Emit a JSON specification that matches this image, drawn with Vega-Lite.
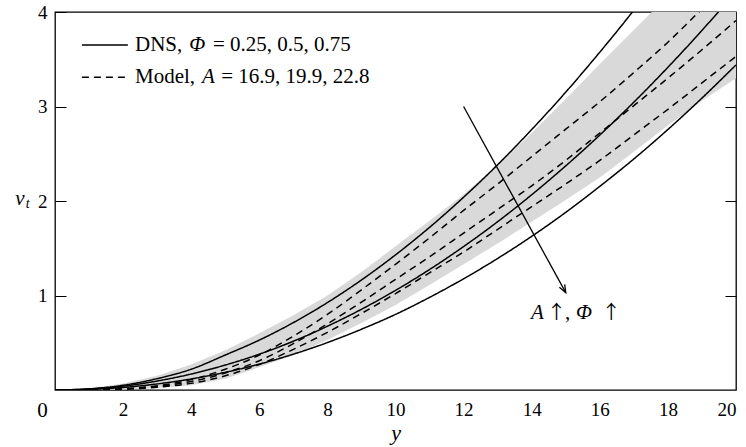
{
  "$schema": "https://vega.github.io/schema/vega-lite/v6.json",
  "width": 681,
  "height": 378,
  "autosize": {"type": "none"},
  "padding": {"left": 55, "top": 12, "right": 10, "bottom": 57},
  "config": {
    "view": {"stroke": "black", "strokeWidth": 1.3},
    "font": "Liberation Serif",
    "axis": {"grid": false, "labelFont": "Liberation Serif", "labelFontSize": 19, "labelColor": "black", "tickColor": "black", "titleFont": "Liberation Serif", "titleColor": "black"},
    "axisX": {"domain": false, "ticks": false, "labelPadding": 10, "labelExpr": "datum.value == 0 ? '' : datum.label", "titleFontSize": 22, "titleFontStyle": "italic", "titleFontWeight": "normal", "titlePadding": 3}
  },
  "datasets": {
    "curves": [
      {"s":"S1","k":"DNS","x":0,"v":0},{"s":"S1","k":"DNS","x":1,"v":0.012},{"s":"S1","k":"DNS","x":2,"v":0.05},{"s":"S1","k":"DNS","x":3,"v":0.12},{"s":"S1","k":"DNS","x":4,"v":0.22},{"s":"S1","k":"DNS","x":5,"v":0.37},{"s":"S1","k":"DNS","x":6,"v":0.528},{"s":"S1","k":"DNS","x":7,"v":0.713},{"s":"S1","k":"DNS","x":8,"v":0.925},{"s":"S1","k":"DNS","x":9,"v":1.164},{"s":"S1","k":"DNS","x":10,"v":1.43},{"s":"S1","k":"DNS","x":11,"v":1.721},{"s":"S1","k":"DNS","x":12,"v":2.04},{"s":"S1","k":"DNS","x":13,"v":2.384},{"s":"S1","k":"DNS","x":14,"v":2.756},{"s":"S1","k":"DNS","x":15,"v":3.152},{"s":"S1","k":"DNS","x":16,"v":3.575},{"s":"S1","k":"DNS","x":17,"v":4.02},{"s":"S1","k":"DNS","x":18,"v":4.5},
      {"s":"S2","k":"DNS","x":0,"v":0},{"s":"S2","k":"DNS","x":1,"v":0.01},{"s":"S2","k":"DNS","x":2,"v":0.04},{"s":"S2","k":"DNS","x":3,"v":0.095},{"s":"S2","k":"DNS","x":4,"v":0.169},{"s":"S2","k":"DNS","x":5,"v":0.264},{"s":"S2","k":"DNS","x":6,"v":0.379},{"s":"S2","k":"DNS","x":7,"v":0.516},{"s":"S2","k":"DNS","x":8,"v":0.675},{"s":"S2","k":"DNS","x":9,"v":0.854},{"s":"S2","k":"DNS","x":10,"v":1.054},{"s":"S2","k":"DNS","x":11,"v":1.275},{"s":"S2","k":"DNS","x":12,"v":1.518},{"s":"S2","k":"DNS","x":13,"v":1.781},{"s":"S2","k":"DNS","x":14,"v":2.066},{"s":"S2","k":"DNS","x":15,"v":2.372},{"s":"S2","k":"DNS","x":16,"v":2.698},{"s":"S2","k":"DNS","x":17,"v":3.046},{"s":"S2","k":"DNS","x":18,"v":3.415},{"s":"S2","k":"DNS","x":19,"v":3.805},{"s":"S2","k":"DNS","x":20,"v":4.216},
      {"s":"S3","k":"DNS","x":0,"v":0},{"s":"S3","k":"DNS","x":1,"v":0.0064},{"s":"S3","k":"DNS","x":2,"v":0.027},{"s":"S3","k":"DNS","x":3,"v":0.064},{"s":"S3","k":"DNS","x":4,"v":0.117},{"s":"S3","k":"DNS","x":5,"v":0.187},{"s":"S3","k":"DNS","x":6,"v":0.274},{"s":"S3","k":"DNS","x":7,"v":0.379},{"s":"S3","k":"DNS","x":8,"v":0.502},{"s":"S3","k":"DNS","x":9,"v":0.643},{"s":"S3","k":"DNS","x":10,"v":0.8},{"s":"S3","k":"DNS","x":11,"v":0.98},{"s":"S3","k":"DNS","x":12,"v":1.177},{"s":"S3","k":"DNS","x":13,"v":1.392},{"s":"S3","k":"DNS","x":14,"v":1.626},{"s":"S3","k":"DNS","x":15,"v":1.88},{"s":"S3","k":"DNS","x":16,"v":2.155},{"s":"S3","k":"DNS","x":17,"v":2.445},{"s":"S3","k":"DNS","x":18,"v":2.757},{"s":"S3","k":"DNS","x":19,"v":3.089},{"s":"S3","k":"DNS","x":20,"v":3.44},
      {"s":"D1","k":"Model","x":0,"v":0},{"s":"D1","k":"Model","x":1,"v":0.001},{"s":"D1","k":"Model","x":2,"v":0.012},{"s":"D1","k":"Model","x":3,"v":0.045},{"s":"D1","k":"Model","x":4,"v":0.11},{"s":"D1","k":"Model","x":5,"v":0.22},{"s":"D1","k":"Model","x":6,"v":0.37},{"s":"D1","k":"Model","x":7,"v":0.57},{"s":"D1","k":"Model","x":8,"v":0.8},{"s":"D1","k":"Model","x":9,"v":1.06},{"s":"D1","k":"Model","x":10,"v":1.33},{"s":"D1","k":"Model","x":11,"v":1.61},{"s":"D1","k":"Model","x":12,"v":1.9},{"s":"D1","k":"Model","x":13,"v":2.18},{"s":"D1","k":"Model","x":14,"v":2.47},{"s":"D1","k":"Model","x":15,"v":2.76},{"s":"D1","k":"Model","x":16,"v":3.05},{"s":"D1","k":"Model","x":17,"v":3.36},{"s":"D1","k":"Model","x":18,"v":3.68},{"s":"D1","k":"Model","x":19,"v":4.03},{"s":"D1","k":"Model","x":20,"v":4.36},
      {"s":"D2","k":"Model","x":0,"v":0},{"s":"D2","k":"Model","x":1,"v":0.001},{"s":"D2","k":"Model","x":2,"v":0.01},{"s":"D2","k":"Model","x":3,"v":0.038},{"s":"D2","k":"Model","x":4,"v":0.09},{"s":"D2","k":"Model","x":5,"v":0.18},{"s":"D2","k":"Model","x":6,"v":0.31},{"s":"D2","k":"Model","x":7,"v":0.49},{"s":"D2","k":"Model","x":8,"v":0.7},{"s":"D2","k":"Model","x":9,"v":0.93},{"s":"D2","k":"Model","x":10,"v":1.17},{"s":"D2","k":"Model","x":11,"v":1.41},{"s":"D2","k":"Model","x":12,"v":1.66},{"s":"D2","k":"Model","x":13,"v":1.91},{"s":"D2","k":"Model","x":14,"v":2.16},{"s":"D2","k":"Model","x":15,"v":2.43},{"s":"D2","k":"Model","x":16,"v":2.72},{"s":"D2","k":"Model","x":17,"v":3.01},{"s":"D2","k":"Model","x":18,"v":3.3},{"s":"D2","k":"Model","x":19,"v":3.6},{"s":"D2","k":"Model","x":20,"v":3.91},
      {"s":"D3","k":"Model","x":0,"v":0},{"s":"D3","k":"Model","x":1,"v":0.001},{"s":"D3","k":"Model","x":2,"v":0.008},{"s":"D3","k":"Model","x":3,"v":0.03},{"s":"D3","k":"Model","x":4,"v":0.07},{"s":"D3","k":"Model","x":5,"v":0.15},{"s":"D3","k":"Model","x":6,"v":0.27},{"s":"D3","k":"Model","x":7,"v":0.43},{"s":"D3","k":"Model","x":8,"v":0.61},{"s":"D3","k":"Model","x":9,"v":0.81},{"s":"D3","k":"Model","x":10,"v":1.02},{"s":"D3","k":"Model","x":11,"v":1.24},{"s":"D3","k":"Model","x":12,"v":1.46},{"s":"D3","k":"Model","x":13,"v":1.7},{"s":"D3","k":"Model","x":14,"v":1.94},{"s":"D3","k":"Model","x":15,"v":2.18},{"s":"D3","k":"Model","x":16,"v":2.43},{"s":"D3","k":"Model","x":17,"v":2.7},{"s":"D3","k":"Model","x":18,"v":2.97},{"s":"D3","k":"Model","x":19,"v":3.25},{"s":"D3","k":"Model","x":20,"v":3.53}
    ],
    "band": [
      {"x":0,"lo":0,"hi":0},{"x":1,"lo":0,"hi":0.015},{"x":2,"lo":0.005,"hi":0.07},{"x":3,"lo":0.02,"hi":0.15},{"x":4,"lo":0.05,"hi":0.27},{"x":5,"lo":0.12,"hi":0.42},{"x":6,"lo":0.24,"hi":0.6},{"x":7,"lo":0.37,"hi":0.79},{"x":8,"lo":0.53,"hi":1.0},{"x":9,"lo":0.71,"hi":1.25},{"x":10,"lo":0.9,"hi":1.52},{"x":11,"lo":1.11,"hi":1.79},{"x":12,"lo":1.33,"hi":2.07},{"x":13,"lo":1.55,"hi":2.38},{"x":14,"lo":1.78,"hi":2.72},{"x":15,"lo":2.01,"hi":3.08},{"x":16,"lo":2.25,"hi":3.45},{"x":17,"lo":2.52,"hi":3.81},{"x":18,"lo":2.8,"hi":4.17},{"x":19,"lo":3.06,"hi":4.53},{"x":20,"lo":3.3,"hi":4.9}
    ],
    "legend": [
      {"k":"DNS","x":0.79,"x2":2.14,"v":3.65},
      {"k":"Model","x":0.79,"x2":2.14,"v":3.31}
    ],
    "regular": [
      {"t":"DNS,","x":2.35,"v":3.65},
      {"t":"= 0.25, 0.5, 0.75","x":4.64,"v":3.65},
      {"t":"Model,","x":2.35,"v":3.31},
      {"t":"= 16.9, 19.9, 22.8","x":4.88,"v":3.31},
      {"t":",","x":14.98,"v":0.815},
      {"t":"0","x":-0.52,"v":-0.22}
    ],
    "arrows": [
      {"t":"↑","x":14.45,"v":0.815},
      {"t":"↑","x":16.06,"v":0.815}
    ],
    "italic": [
      {"t":"Φ","x":3.94,"v":3.65},
      {"t":"A","x":4.32,"v":3.31},
      {"t":"A","x":13.98,"v":0.815},
      {"t":"Φ","x":15.3,"v":0.815},
      {"t":"ν","x":-1.17,"v":2.02}
    ],
    "sub": [
      {"t":"t","x":-0.86,"v":1.97}
    ],
    "arrow": [
      {"x":12.0,"v":3.0,"x2":15.0,"v2":1.03}
    ]
  },
  "layer": [
    {
      "data": {"name": "band"},
      "mark": {"type": "area", "color": "#d9d9d9", "clip": true},
      "encoding": {
        "x": {"field": "x", "type": "quantitative", "scale": {"domain": [0, 20], "nice": false}, "title": "y",
              "axis": {"values": [0,2,4,6,8,10,12,14,16,18,20]}},
        "y": {"field": "lo", "type": "quantitative", "scale": {"domain": [0, 4], "nice": false},
              "axis": {"orient": "left", "values": [1,2,3,4], "domain": false, "tickSize": -11, "labelPadding": 19, "title": null}},
        "y2": {"field": "hi"}
      }
    },
    {
      "data": {"name": "curves"},
      "mark": {"type": "line", "color": "black", "strokeWidth": 1.5, "interpolate": "monotone", "clip": true},
      "encoding": {
        "x": {"field": "x", "type": "quantitative", "title": "y"},
        "y": {"field": "v", "type": "quantitative",
              "axis": {"orient": "right", "values": [1,2,3], "labels": false, "domain": false, "tickSize": -11, "title": null}},
        "detail": {"field": "s"},
        "strokeDash": {"field": "k", "type": "nominal", "scale": {"domain": ["DNS", "Model"], "range": [[1, 0], [7, 5]]}, "legend": null}
      }
    },
    {
      "data": {"name": "legend"},
      "mark": {"type": "rule", "color": "black", "strokeWidth": 1.5},
      "encoding": {
        "x": {"field": "x", "type": "quantitative", "title": "y"},
        "x2": {"field": "x2"},
        "y": {"field": "v", "type": "quantitative", "axis": null},
        "strokeDash": {"field": "k", "type": "nominal", "legend": null}
      }
    },
    {
      "data": {"name": "regular"},
      "mark": {"type": "text", "align": "left", "baseline": "middle", "font": "Liberation Serif", "fontSize": 21, "color": "black"},
      "encoding": {
        "x": {"field": "x", "type": "quantitative", "title": "y"},
        "y": {"field": "v", "type": "quantitative", "axis": null},
        "text": {"field": "t"}
      }
    },
    {
      "data": {"name": "arrows"},
      "mark": {"type": "text", "align": "left", "baseline": "middle", "font": "Noto Sans CJK SC", "fontSize": 19, "color": "black"},
      "encoding": {
        "x": {"field": "x", "type": "quantitative", "title": "y"},
        "y": {"field": "v", "type": "quantitative", "axis": null},
        "text": {"field": "t"}
      }
    },
    {
      "data": {"name": "italic"},
      "mark": {"type": "text", "align": "left", "baseline": "middle", "font": "Liberation Serif", "fontStyle": "italic", "fontSize": 21, "color": "black"},
      "encoding": {
        "x": {"field": "x", "type": "quantitative", "title": "y"},
        "y": {"field": "v", "type": "quantitative", "axis": null},
        "text": {"field": "t"}
      }
    },
    {
      "data": {"name": "sub"},
      "mark": {"type": "text", "align": "left", "baseline": "middle", "font": "Liberation Serif", "fontStyle": "italic", "fontSize": 14, "color": "black"},
      "encoding": {
        "x": {"field": "x", "type": "quantitative", "title": "y"},
        "y": {"field": "v", "type": "quantitative", "axis": null},
        "text": {"field": "t"}
      }
    },
    {
      "data": {"name": "arrow"},
      "mark": {"type": "rule", "color": "black", "strokeWidth": 1.3},
      "encoding": {
        "x": {"field": "x", "type": "quantitative", "title": "y"},
        "y": {"field": "v", "type": "quantitative", "axis": null},
        "x2": {"field": "x2"},
        "y2": {"field": "v2"}
      }
    },
    {
      "data": {"name": "arrow"},
      "mark": {"type": "point", "shape": "M-0.124,-0.958L0,0L-0.738,-0.622", "filled": false, "stroke": "black", "strokeWidth": 1.3, "size": 300, "opacity": 1},
      "encoding": {
        "x": {"field": "x2", "type": "quantitative", "title": "y"},
        "y": {"field": "v2", "type": "quantitative", "axis": null}
      }
    }
  ],
  "resolve": {"axis": {"y": "independent"}}
}
